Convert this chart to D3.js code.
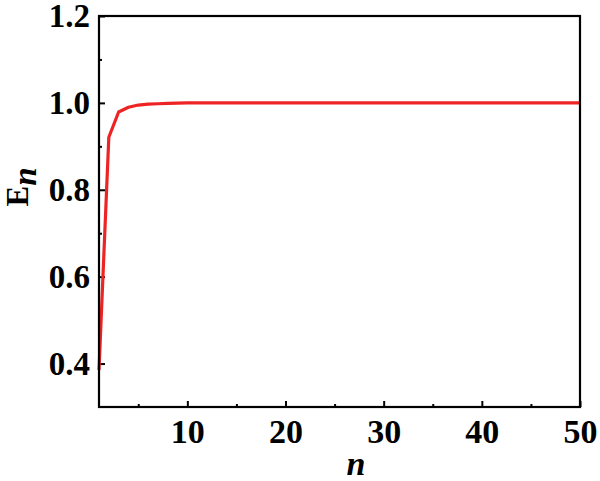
<!DOCTYPE html>
<html><head><meta charset="utf-8">
<script src="https://cdn.jsdelivr.net/npm/d3@7"></script>
<style>body{margin:0;background:#fff}svg{display:block}</style>
</head><body>
<script>
const nValues = [1,2,3,4,5,6,7,8,9,10,11,12,13,14,15,16,17,18,19,20,21,22,23,24,25,26,27,28,29,30,31,32,33,34,35,36,37,38,39,40,41,42,43,44,45,46,47,48,49,50];
const enValues = [0.385,0.921,0.979,0.990,0.995,0.997,0.998,0.999,0.9995,1,1,1,1,1,1,1,1,1,1,1,1,1,1,1,1,1,1,1,1,1,1,1,1,1,1,1,1,1,1,1,1,1,1,1,1,1,1,1,1,1];
const xTicks = [10,20,30,40,50];
const xMinor = [5,15,25,35,45];
const yTicks = [0.4,0.6,0.8,1.0,1.2];
const yMinor = [0.5,0.7,0.9,1.1];

const W=600,H=481;
const m={l:99,r:20,t:16,b:74};
const svg=d3.select("body").append("svg").attr("width",W).attr("height",H);
const x=d3.scaleLinear().domain([1,50]).range([m.l,W-m.r]);
const y=d3.scaleLinear().domain([0.3,1.2]).range([H-m.b,m.t]);
const font="'Liberation Serif','Times New Roman',serif";

// x axis
const gx=svg.append("g").attr("transform",`translate(0,${H-m.b})`)
  .call(d3.axisBottom(x).tickValues(xTicks).tickSizeInner(-6).tickSizeOuter(0).tickPadding(12).tickFormat(d3.format("d")));
gx.select(".domain").remove();
gx.selectAll("line").attr("stroke","#000").attr("stroke-width",2);
gx.selectAll("text").attr("font-family",font).attr("font-weight","bold").attr("font-size",34).attr("fill","#000");
svg.append("g").attr("transform",`translate(0,${H-m.b})`)
  .call(d3.axisBottom(x).tickValues(xMinor).tickSizeInner(-3).tickSizeOuter(0).tickFormat(""))
  .call(g=>{g.select(".domain").remove();g.selectAll("line").attr("stroke","#000").attr("stroke-width",2);});

// y axis
const gy=svg.append("g").attr("transform",`translate(${m.l},0)`)
  .call(d3.axisLeft(y).tickValues(yTicks).tickSizeInner(-6).tickSizeOuter(0).tickPadding(9).tickFormat(d3.format(".1f")));
gy.select(".domain").remove();
gy.selectAll("line").attr("stroke","#000").attr("stroke-width",2);
gy.selectAll("text").attr("font-family",font).attr("font-weight","bold").attr("font-size",33).attr("fill","#000");
svg.append("g").attr("transform",`translate(${m.l},0)`)
  .call(d3.axisLeft(y).tickValues(yMinor).tickSizeInner(-3).tickSizeOuter(0).tickFormat(""))
  .call(g=>{g.select(".domain").remove();g.selectAll("line").attr("stroke","#000").attr("stroke-width",2);});

// line
const data=nValues.map((n,i)=>({n,v:enValues[i]}));
svg.append("path").datum(data)
  .attr("d",d3.line().x(d=>x(d.n)).y(d=>y(d.v)))
  .attr("fill","none").attr("stroke","#ee2424").attr("stroke-width",3.2).attr("stroke-linejoin","round");

// frame
svg.append("rect").attr("x",m.l).attr("y",m.t).attr("width",W-m.r-m.l).attr("height",H-m.b-m.t)
  .attr("fill","none").attr("stroke","#000").attr("stroke-width",2.2);

// axis titles
svg.append("text").attr("x",356).attr("y",475).attr("text-anchor","middle")
  .attr("font-family",font).attr("font-weight","bold").attr("font-style","italic").attr("font-size",34).text("n");
const yt=svg.append("text").attr("transform","translate(28,187) rotate(-90)").attr("text-anchor","middle")
  .attr("font-family",font).attr("font-weight","bold").attr("font-size",31);
yt.append("tspan").text("E");
yt.append("tspan").attr("font-style","italic").attr("font-size",33).attr("dy",8).text("n");
</script>
</body></html>
